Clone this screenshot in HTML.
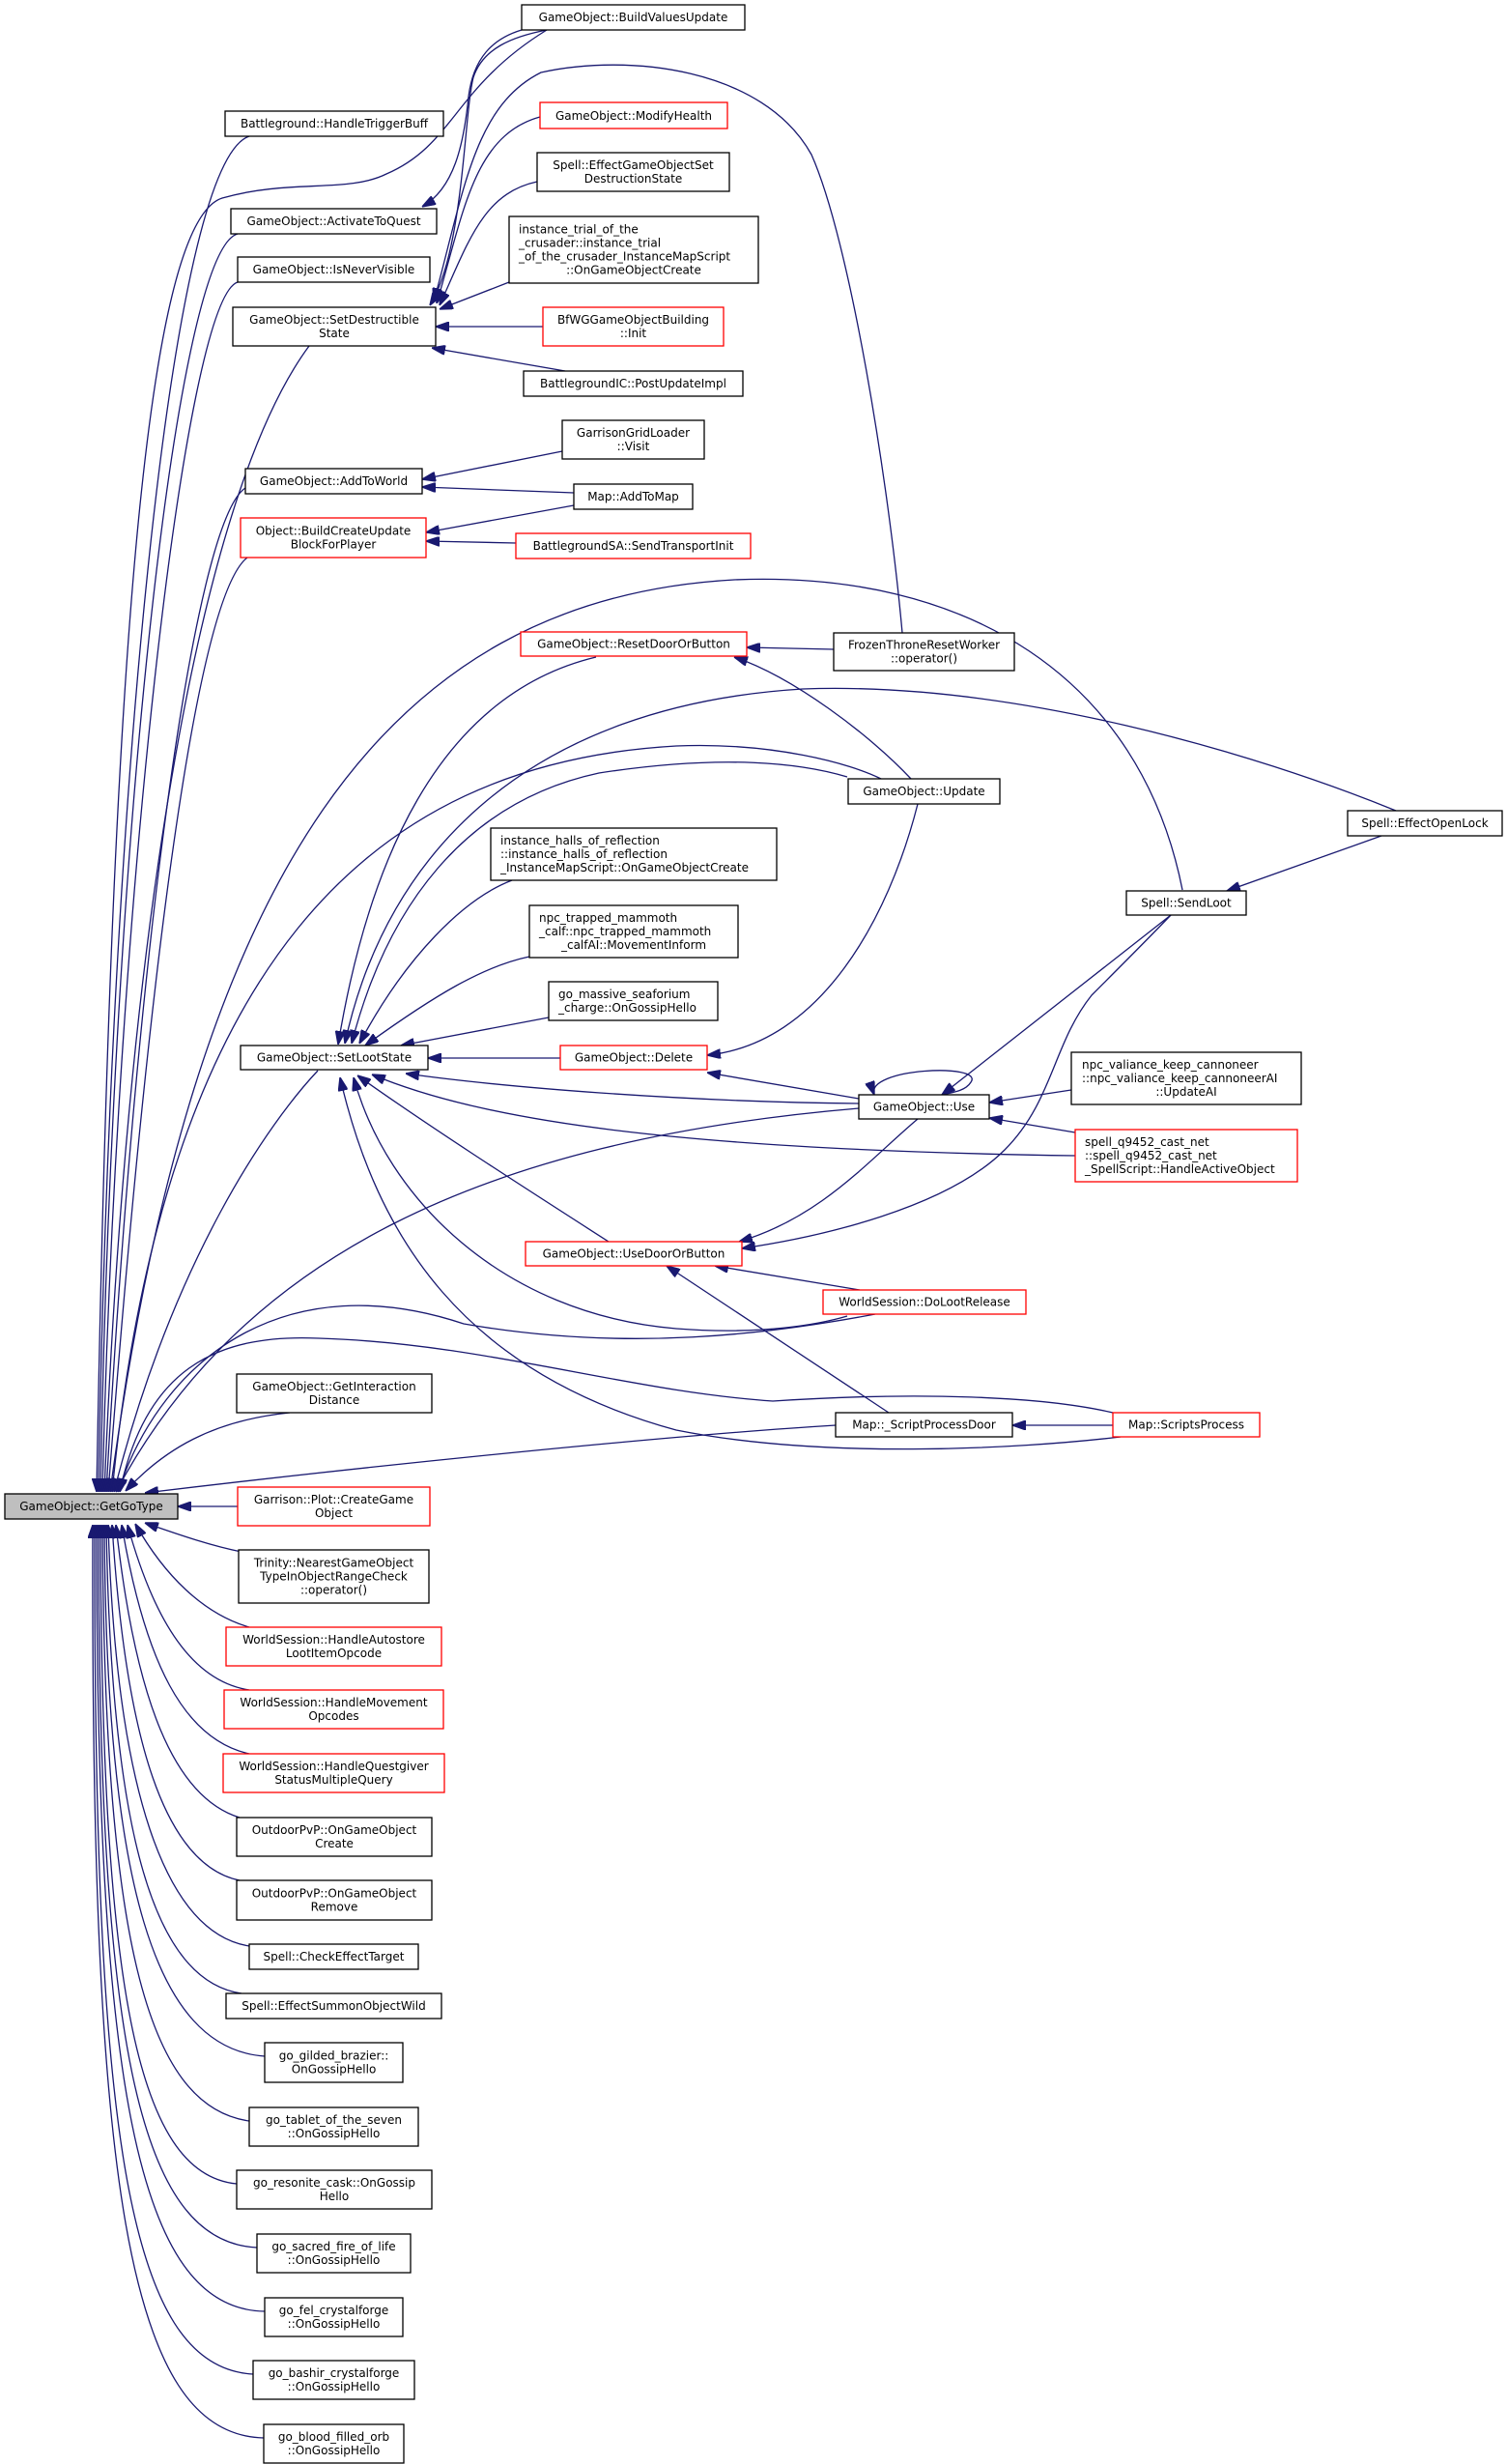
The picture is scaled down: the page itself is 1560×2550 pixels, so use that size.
<!DOCTYPE html>
<html><head><meta charset="utf-8"><style>
html,body{margin:0;padding:0;background:#fff;}
svg{display:block;}
text{font-family:"DejaVu Sans","Liberation Sans",sans-serif;font-size:12px;fill:#000;}
.n{fill:#fff;stroke:#000;stroke-width:1.3;}
.r{fill:#fff;stroke:#ff0000;stroke-width:1.3;}
.e{fill:none;stroke:#191970;stroke-width:1.3;marker-start:url(#a);}
</style></head><body>
<svg width="1560" height="2550" viewBox="0 0 1560 2550" xmlns="http://www.w3.org/2000/svg">
<defs><marker id="a" viewBox="0 0 10 7" markerWidth="14" markerHeight="10" refX="10" refY="3.5" orient="auto-start-reverse" markerUnits="userSpaceOnUse"><path d="M0,0 L10,3.5 L0,7 z" fill="#191970" stroke="#191970"/></marker></defs>

<!-- edges to GetGoType -->
<path class="e" d="M102,1544 C112,900 170,170 258,141"/>
<path class="e" d="M104,1544 C115,900 180,260 246,242"/>
<path class="e" d="M106,1544 C120,950 190,310 246,292"/>
<path class="e" d="M108,1544 C130,1000 200,520 320,358"/>
<path class="e" d="M100,1544 C115,700 150,230 230,205 C300,185 360,200 400,180 C470,150 470,90 566,31"/>
<path class="e" d="M110,1544 C140,1000 200,540 254,505"/>
<path class="e" d="M112,1544 C150,1050 200,620 256,577"/>
<path class="e" d="M114,1544 C200,900 400,620 760,600 C1000,590 1180,700 1224,921"/>
<path class="e" d="M116,1544 C170,1000 380,790 700,772 C800,768 880,790 912,806"/>
<path class="e" d="M118,1544 C180,1300 280,1160 329,1108"/>
<path class="e" d="M120,1544 C250,1300 500,1180 889,1147"/>
<path class="e" d="M122,1544 C170,1400 300,1310 480,1370 C650,1400 800,1380 906,1360"/>
<path class="e" d="M124,1544 C150,1420 220,1380 330,1385 C500,1390 650,1440 800,1450 C950,1440 1080,1445 1152,1462"/>
<path class="e" d="M150,1545 C400,1515 700,1485 865,1475"/>
<path class="e" d="M130,1543 C170,1500 220,1470 300,1462"/>
<path class="e" d="M184,1559 L246,1559"/>
<path class="e" d="M150,1576 C190,1590 220,1600 250,1606"/>
<path class="e" d="M140,1577 C170,1630 210,1670 258,1684"/>
<path class="e" d="M132,1578 C160,1680 200,1740 258,1749"/>
<path class="e" d="M126,1578 C150,1720 190,1800 258,1815"/>
<path class="e" d="M120,1578 C140,1760 180,1860 248,1881"/>
<path class="e" d="M116,1578 C130,1800 170,1930 248,1946"/>
<path class="e" d="M112,1578 C120,1850 170,2000 258,2014"/>
<path class="e" d="M110,1578 C115,1900 160,2050 250,2063"/>
<path class="e" d="M108,1578 C110,1950 160,2120 274,2128"/>
<path class="e" d="M106,1578 C108,2000 150,2180 258,2195"/>
<path class="e" d="M104,1578 C105,2050 140,2250 245,2260"/>
<path class="e" d="M102,1578 C102,2100 140,2320 266,2326"/>
<path class="e" d="M100,1578 C100,2150 140,2390 274,2392"/>
<path class="e" d="M98,1578 C97,2200 130,2450 262,2457"/>
<path class="e" d="M96,1578 C94,2250 130,2520 273,2523"/>

<!-- SetDestructibleState / ActivateToQuest -->
<path class="e" d="M445,316 C480,260 480,120 490,80 C500,50 530,38 566,31"/>
<path class="e" d="M437,214 C470,195 480,150 485,100 C490,60 510,40 540,31"/>
<path class="e" d="M449,312 C480,200 490,110 560,75 C650,55 790,70 840,160 C880,250 920,500 934,655"/>
<path class="e" d="M452,314 C480,220 490,140 559,121"/>
<path class="e" d="M455,316 C485,250 500,200 556,188"/>
<path class="e" d="M455,320 L527,292"/>
<path class="e" d="M451,338 L562,338"/>
<path class="e" d="M447,360 L585,384"/>
<!-- AddToWorld / BuildCreateUpdate -->
<path class="e" d="M437,496 L582,467"/>
<path class="e" d="M437,504 L594,510"/>
<path class="e" d="M441,551 L594,523"/>
<path class="e" d="M441,560 L534,562"/>
<!-- ResetDoorOrButton -->
<path class="e" d="M773,670 L863,672"/>
<path class="e" d="M760,680 C820,700 900,760 943,806"/>
<!-- SetLootState -->
<path class="e" d="M350,1081 C380,900 450,720 617,680"/>
<path class="e" d="M364,1080 C400,940 480,830 620,800 C750,780 830,790 877,804"/>
<path class="e" d="M357,1080 C400,880 550,730 831,713 C1050,705 1300,780 1445,839"/>
<path class="e" d="M372,1080 C420,990 480,930 530,911"/>
<path class="e" d="M378,1082 C450,1030 500,1000 548,990"/>
<path class="e" d="M415,1082 L568,1053"/>
<path class="e" d="M443,1095 L580,1095"/>
<path class="e" d="M420,1111 C520,1125 700,1140 889,1142"/>
<path class="e" d="M385,1112 C500,1160 700,1190 1113,1196"/>
<path class="e" d="M370,1113 C450,1170 560,1240 630,1285"/>
<path class="e" d="M366,1115 C400,1240 520,1360 700,1375 C790,1382 850,1370 877,1362"/>
<path class="e" d="M352,1115 C390,1280 480,1420 700,1480 C850,1510 1050,1500 1160,1487"/>
<!-- Delete -->
<path class="e" d="M732,1092 C850,1080 920,950 950,832"/>
<path class="e" d="M732,1110 L889,1137"/>
<!-- Use -->
<path class="e" d="M905,1133 C895,1105 1020,1100 1005,1120 C1000,1128 990,1130 975,1133"/>
<path class="e" d="M975,1133 L1212,947"/>
<path class="e" d="M1024,1141 L1109,1128"/>
<path class="e" d="M1024,1157 L1113,1172"/>
<!-- UseDoorOrButton -->
<path class="e" d="M765,1285 C850,1260 900,1200 950,1158"/>
<path class="e" d="M768,1292 C850,1280 980,1250 1040,1190 C1090,1140 1090,1080 1130,1030 C1160,1000 1190,970 1212,947"/>
<path class="e" d="M740,1310 L890,1335"/>
<path class="e" d="M690,1310 L920,1462"/>
<!-- SendLoot / ScriptProcessDoor -->
<path class="e" d="M1270,922 L1430,865"/>
<path class="e" d="M1048,1475 L1152,1475"/>

<!-- nodes -->
<rect class="n" x="540" y="5" width="231" height="26"/><text x="655.5" y="22" text-anchor="middle">GameObject::BuildValuesUpdate</text>
<rect class="n" x="233" y="115" width="226" height="26"/><text x="346" y="132" text-anchor="middle">Battleground::HandleTriggerBuff</text>
<rect class="r" x="559" y="106" width="194" height="27"/><text x="656" y="124" text-anchor="middle">GameObject::ModifyHealth</text>
<rect class="n" x="239" y="216" width="213" height="26"/><text x="345.5" y="233" text-anchor="middle">GameObject::ActivateToQuest</text>
<rect class="n" x="556" y="158" width="199" height="40"/><text x="655.5" y="175" text-anchor="middle">Spell::EffectGameObjectSet</text><text x="655.5" y="189" text-anchor="middle">DestructionState</text>
<rect class="n" x="246" y="266" width="199" height="26"/><text x="345.5" y="283" text-anchor="middle">GameObject::IsNeverVisible</text>
<rect class="n" x="527" y="224" width="258" height="69"/><text x="537" y="241.5">instance_trial_of_the</text><text x="537" y="255.5">_crusader::instance_trial</text><text x="537" y="269.5">_of_the_crusader_InstanceMapScript</text><text x="656" y="283.5" text-anchor="middle">::OnGameObjectCreate</text>
<rect class="n" x="241" y="318" width="210" height="40"/><text x="346" y="335" text-anchor="middle">GameObject::SetDestructible</text><text x="346" y="349" text-anchor="middle">State</text>
<rect class="r" x="562" y="318" width="187" height="40"/><text x="655.5" y="335" text-anchor="middle">BfWGGameObjectBuilding</text><text x="655.5" y="349" text-anchor="middle">::Init</text>
<rect class="n" x="542" y="384" width="227" height="26"/><text x="655.5" y="401" text-anchor="middle">BattlegroundIC::PostUpdateImpl</text>
<rect class="n" x="582" y="435" width="147" height="40"/><text x="655.5" y="452" text-anchor="middle">GarrisonGridLoader</text><text x="655.5" y="466" text-anchor="middle">::Visit</text>
<rect class="n" x="254" y="485" width="183" height="26"/><text x="345.5" y="502" text-anchor="middle">GameObject::AddToWorld</text>
<rect class="n" x="594" y="501" width="123" height="26"/><text x="655.5" y="518" text-anchor="middle">Map::AddToMap</text>
<rect class="r" x="249" y="536" width="192" height="41"/><text x="345" y="553.5" text-anchor="middle">Object::BuildCreateUpdate</text><text x="345" y="567.5" text-anchor="middle">BlockForPlayer</text>
<rect class="r" x="534" y="552" width="243" height="26"/><text x="655.5" y="569" text-anchor="middle">BattlegroundSA::SendTransportInit</text>
<rect class="r" x="539" y="654" width="234" height="25"/><text x="656" y="670.5" text-anchor="middle">GameObject::ResetDoorOrButton</text>
<rect class="n" x="863" y="655" width="187" height="39"/><text x="956.5" y="671.5" text-anchor="middle">FrozenThroneResetWorker</text><text x="956.5" y="685.5" text-anchor="middle">::operator()</text>
<rect class="n" x="878" y="806" width="157" height="26"/><text x="956.5" y="823" text-anchor="middle">GameObject::Update</text>
<rect class="n" x="1395" y="839" width="160" height="26"/><text x="1475" y="856" text-anchor="middle">Spell::EffectOpenLock</text>
<rect class="n" x="508" y="857" width="296" height="54"/><text x="518" y="874">instance_halls_of_reflection</text><text x="518" y="888">::instance_halls_of_reflection</text><text x="518" y="902">_InstanceMapScript::OnGameObjectCreate</text>
<rect class="n" x="1166" y="922" width="124" height="25"/><text x="1228" y="938.5" text-anchor="middle">Spell::SendLoot</text>
<rect class="n" x="548" y="937" width="216" height="54"/><text x="558" y="954">npc_trapped_mammoth</text><text x="558" y="968">_calf::npc_trapped_mammoth</text><text x="656" y="982" text-anchor="middle">_calfAI::MovementInform</text>
<rect class="n" x="568" y="1016" width="175" height="40"/><text x="578" y="1033">go_massive_seaforium</text><text x="578" y="1047">_charge::OnGossipHello</text>
<rect class="n" x="249" y="1082" width="194" height="25"/><text x="346" y="1098.5" text-anchor="middle">GameObject::SetLootState</text>
<rect class="r" x="580" y="1082" width="152" height="25"/><text x="656" y="1098.5" text-anchor="middle">GameObject::Delete</text>
<rect class="n" x="1109" y="1089" width="238" height="54"/><text x="1120" y="1106">npc_valiance_keep_cannoneer</text><text x="1120" y="1120">::npc_valiance_keep_cannoneerAI</text><text x="1228" y="1134" text-anchor="middle">::UpdateAI</text>
<rect class="n" x="889" y="1133" width="135" height="25"/><text x="956.5" y="1149.5" text-anchor="middle">GameObject::Use</text>
<rect class="r" x="1113" y="1169" width="230" height="54"/><text x="1123" y="1186">spell_q9452_cast_net</text><text x="1123" y="1200">::spell_q9452_cast_net</text><text x="1123" y="1214">_SpellScript::HandleActiveObject</text>
<rect class="r" x="544" y="1285" width="224" height="25"/><text x="656" y="1301.5" text-anchor="middle">GameObject::UseDoorOrButton</text>
<rect class="r" x="852" y="1335" width="210" height="25"/><text x="957" y="1351.5" text-anchor="middle">WorldSession::DoLootRelease</text>
<rect class="n" x="245" y="1422" width="202" height="40"/><text x="346" y="1439" text-anchor="middle">GameObject::GetInteraction</text><text x="346" y="1453" text-anchor="middle">Distance</text>
<rect class="n" x="865" y="1462" width="183" height="25"/><text x="956.5" y="1478.5" text-anchor="middle">Map::_ScriptProcessDoor</text>
<rect class="r" x="1152" y="1462" width="152" height="25"/><text x="1228" y="1478.5" text-anchor="middle">Map::ScriptsProcess</text>
<rect x="5" y="1546" width="179" height="26" fill="#bfbfbf" stroke="#000" stroke-width="1.3"/><text x="94.5" y="1563" text-anchor="middle">GameObject::GetGoType</text>
<rect class="r" x="246" y="1539" width="199" height="40"/><text x="345.5" y="1556" text-anchor="middle">Garrison::Plot::CreateGame</text><text x="345.5" y="1570" text-anchor="middle">Object</text>
<rect class="n" x="247" y="1604" width="197" height="55"/><text x="345.5" y="1621.5" text-anchor="middle">Trinity::NearestGameObject</text><text x="345.5" y="1635.5" text-anchor="middle">TypeInObjectRangeCheck</text><text x="345.5" y="1649.5" text-anchor="middle">::operator()</text>
<rect class="r" x="234" y="1684" width="223" height="40"/><text x="345.5" y="1701" text-anchor="middle">WorldSession::HandleAutostore</text><text x="345.5" y="1715" text-anchor="middle">LootItemOpcode</text>
<rect class="r" x="232" y="1749" width="227" height="40"/><text x="345.5" y="1766" text-anchor="middle">WorldSession::HandleMovement</text><text x="345.5" y="1780" text-anchor="middle">Opcodes</text>
<rect class="r" x="231" y="1815" width="229" height="40"/><text x="345.5" y="1832" text-anchor="middle">WorldSession::HandleQuestgiver</text><text x="345.5" y="1846" text-anchor="middle">StatusMultipleQuery</text>
<rect class="n" x="245" y="1881" width="202" height="40"/><text x="346" y="1898" text-anchor="middle">OutdoorPvP::OnGameObject</text><text x="346" y="1912" text-anchor="middle">Create</text>
<rect class="n" x="245" y="1946" width="202" height="41"/><text x="346" y="1963.5" text-anchor="middle">OutdoorPvP::OnGameObject</text><text x="346" y="1977.5" text-anchor="middle">Remove</text>
<rect class="n" x="258" y="2012" width="175" height="26"/><text x="345.5" y="2029" text-anchor="middle">Spell::CheckEffectTarget</text>
<rect class="n" x="234" y="2063" width="223" height="26"/><text x="345.5" y="2080" text-anchor="middle">Spell::EffectSummonObjectWild</text>
<rect class="n" x="274" y="2114" width="143" height="41"/><text x="345.5" y="2131.5" text-anchor="middle">go_gilded_brazier::</text><text x="345.5" y="2145.5" text-anchor="middle">OnGossipHello</text>
<rect class="n" x="258" y="2181" width="175" height="40"/><text x="345.5" y="2198" text-anchor="middle">go_tablet_of_the_seven</text><text x="345.5" y="2212" text-anchor="middle">::OnGossipHello</text>
<rect class="n" x="245" y="2246" width="202" height="40"/><text x="346" y="2263" text-anchor="middle">go_resonite_cask::OnGossip</text><text x="346" y="2277" text-anchor="middle">Hello</text>
<rect class="n" x="266" y="2312" width="159" height="40"/><text x="345.5" y="2329" text-anchor="middle">go_sacred_fire_of_life</text><text x="345.5" y="2343" text-anchor="middle">::OnGossipHello</text>
<rect class="n" x="274" y="2378" width="143" height="40"/><text x="345.5" y="2395" text-anchor="middle">go_fel_crystalforge</text><text x="345.5" y="2409" text-anchor="middle">::OnGossipHello</text>
<rect class="n" x="262" y="2443" width="167" height="40"/><text x="345.5" y="2460" text-anchor="middle">go_bashir_crystalforge</text><text x="345.5" y="2474" text-anchor="middle">::OnGossipHello</text>
<rect class="n" x="273" y="2509" width="145" height="40"/><text x="345.5" y="2526" text-anchor="middle">go_blood_filled_orb</text><text x="345.5" y="2540" text-anchor="middle">::OnGossipHello</text>
</svg>
</body></html>
